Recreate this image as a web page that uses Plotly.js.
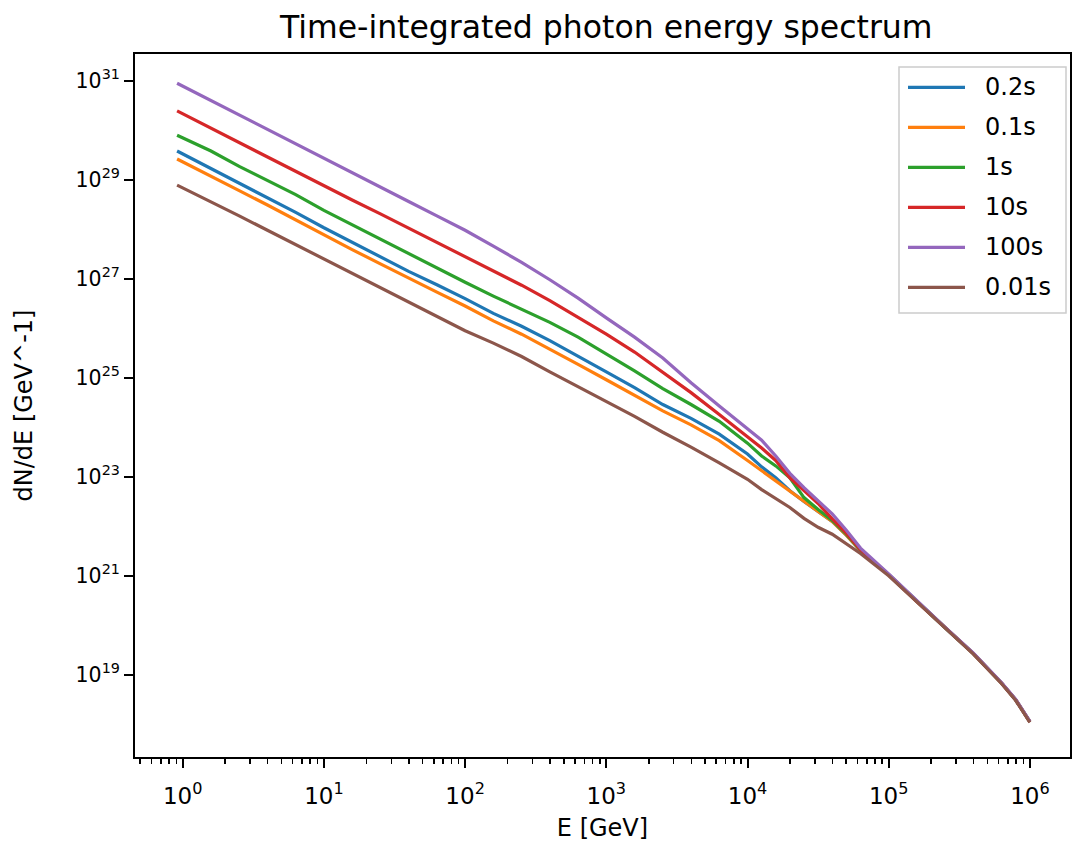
<!DOCTYPE html>
<html>
<head>
<meta charset="utf-8">
<script src="https://cdn.plot.ly/plotly-3.0.1.min.js"></script>
<style>html,body{margin:0;padding:0;background:#fff;}#chart{width:1081px;height:850px;}</style>
</head>
<body>
<div id="chart"></div>
<script>
// Photon energy E [GeV]
const energyGeV = [0.912, 1.585, 2.512, 3.981, 6.310, 10, 15.85, 25.12, 39.81, 63.10,
  100, 158.5, 251.2, 398.1, 631.0, 1000, 1585, 2512, 3981, 6310,
  10000, 12590, 15850, 19950, 25120, 31620, 39810, 50120, 63100,
  100000, 158500, 251200, 398100, 631000, 794300, 1000000];

// log10 of dN/dE [GeV^-1]
const log_0_2s = [29.58, 29.23, 28.93, 28.64, 28.34, 28.03, 27.74, 27.45, 27.15, 26.88,
  26.60, 26.30, 26.04, 25.75, 25.44, 25.12, 24.80, 24.46, 24.18, 23.86,
  23.46, 23.20, 22.98, 22.72, 22.50, 22.30, 22.10, 21.82, 21.51,
  21.02, 20.48, 19.95, 19.43, 18.83, 18.49, 18.05];
const log_0_1s = [29.42, 29.08, 28.78, 28.49, 28.19, 27.88, 27.59, 27.30, 27.01, 26.73,
  26.45, 26.15, 25.88, 25.58, 25.27, 24.96, 24.65, 24.33, 24.05, 23.73,
  23.33, 23.12, 22.93, 22.70, 22.50, 22.30, 22.10, 21.82, 21.51,
  21.02, 20.48, 19.95, 19.43, 18.83, 18.49, 18.05];
const log_1s = [29.90, 29.58, 29.27, 28.99, 28.70, 28.38, 28.09, 27.80, 27.50, 27.21,
  26.93, 26.65, 26.38, 26.12, 25.82, 25.48, 25.14, 24.78, 24.46, 24.12,
  23.68, 23.42, 23.22, 22.98, 22.58, 22.34, 22.12, 21.84, 21.52,
  21.02, 20.48, 19.95, 19.43, 18.83, 18.49, 18.05];
const log_10s = [30.39, 30.04, 29.75, 29.46, 29.17, 28.89, 28.59, 28.31, 28.02, 27.74,
  27.45, 27.15, 26.87, 26.56, 26.22, 25.88, 25.52, 25.12, 24.70, 24.26,
  23.82, 23.58, 23.33, 22.98, 22.72, 22.46, 22.15, 21.86, 21.53,
  21.02, 20.48, 19.95, 19.43, 18.83, 18.49, 18.05];
const log_100s = [30.95, 30.60, 30.30, 30.01, 29.71, 29.42, 29.13, 28.84, 28.56, 28.27,
  27.98, 27.66, 27.33, 26.98, 26.61, 26.21, 25.82, 25.40, 24.90, 24.43,
  23.98, 23.74, 23.42, 23.07, 22.78, 22.52, 22.25, 21.92, 21.56,
  21.04, 20.49, 19.96, 19.44, 18.84, 18.50, 18.06];
const log_0_01s = [28.89, 28.56, 28.27, 27.98, 27.69, 27.40, 27.10, 26.82, 26.53, 26.24,
  25.95, 25.70, 25.43, 25.12, 24.82, 24.53, 24.22, 23.90, 23.60, 23.28,
  22.95, 22.74, 22.56, 22.38, 22.16, 21.98, 21.84, 21.65, 21.45,
  21.00, 20.47, 19.94, 19.42, 18.82, 18.48, 18.04];

const seriesNames = ['0.2s', '0.1s', '1s', '10s', '100s', '0.01s'];
const seriesLogs = [log_0_2s, log_0_1s, log_1s, log_10s, log_100s, log_0_01s];
const seriesColors = ['#1f77b4', '#ff7f0e', '#2ca02c', '#d62728', '#9467bd', '#8c564b'];

const xTickVals = [1, 10, 100, 1000, 10000, 100000, 1000000];
const xTickText = ['10<sup>0</sup>', '10<sup>1</sup>', '10<sup>2</sup>', '10<sup>3</sup>', '10<sup>4</sup>', '10<sup>5</sup>', '10<sup>6</sup>'];
const yTickVals = [1e19, 1e21, 1e23, 1e25, 1e27, 1e29, 1e31];
const yTickText = ['10<sup>19</sup>', '10<sup>21</sup>', '10<sup>23</sup>', '10<sup>25</sup>', '10<sup>27</sup>', '10<sup>29</sup>', '10<sup>31</sup>'];

const xMinor = [];
for (let d = -1; d <= 6; d++) {
  for (let m = 2; m <= 9; m++) xMinor.push(m * Math.pow(10, d));
}

const traces = seriesNames.map((name, i) => ({
  type: 'scatter',
  mode: 'lines',
  name: name,
  showlegend: false,
  x: energyGeV,
  y: seriesLogs[i].map(v => Math.pow(10, v)),
  line: {color: seriesColors[i], width: 3.2}
}));

const FONT = 'DejaVu Sans, sans-serif';
const TXT = 24;

// hand-drawn legend (box, line samples, labels) in paper coordinates
const PL = 135, PW = 935, PB = 757, PH = 703;
const px2x = p => (p - PL) / PW;
const py2y = p => (PB - p) / PH;
const legendRowsY = [87.3, 127.3, 167.3, 207.3, 247.3, 287.3];
const shapes = [{
  type: 'rect', xref: 'paper', yref: 'paper',
  x0: px2x(899), x1: px2x(1066), y0: py2y(313), y1: py2y(67),
  fillcolor: 'rgba(255,255,255,0.8)', line: {color: '#cccccc', width: 1.5}
}];
const annotations = [];
seriesNames.forEach((name, i) => {
  shapes.push({
    type: 'line', xref: 'paper', yref: 'paper',
    x0: px2x(908), x1: px2x(965), y0: py2y(legendRowsY[i]), y1: py2y(legendRowsY[i]),
    line: {color: seriesColors[i], width: 3.2}
  });
  annotations.push({
    xref: 'paper', yref: 'paper', x: px2x(983), y: py2y(legendRowsY[i]),
    xanchor: 'left', yanchor: 'middle', showarrow: false, text: name,
    font: {family: FONT, size: TXT, color: 'black'}
  });
});

const axisCommon = {
  type: 'log',
  showgrid: false,
  zeroline: false,
  showline: true,
  mirror: true,
  linecolor: 'black',
  linewidth: 2,
  ticks: 'outside',
  ticklen: 9,
  tickwidth: 2,
  tickcolor: 'black',
  tickmode: 'array'
};

const layout = {
  width: 1081,
  height: 850,
  margin: {l: 135, r: 11, t: 54, b: 93, pad: 0},
  paper_bgcolor: 'white',
  plot_bgcolor: 'white',
  font: {family: FONT, color: 'black'},
  showlegend: false,
  title: {
    text: 'Time-integrated photon energy spectrum',
    font: {family: FONT, size: 31.5, color: 'black'},
    x: 0.504, xref: 'paper', xanchor: 'center',
    y: 0.968, yref: 'container', yanchor: 'middle'
  },
  xaxis: Object.assign({}, axisCommon, {
    range: [-0.338, 6.284],
    tickvals: xTickVals,
    ticktext: xTickText,
    tickfont: {family: FONT, size: 23, color: 'black'},
    ticklabelstandoff: 8,
    minor: {tickmode: 'array', tickvals: xMinor, ticks: 'outside', ticklen: 5, tickwidth: 1.5, tickcolor: 'black', showgrid: false},
    title: {text: 'E [GeV]', font: {family: FONT, size: TXT, color: 'black'}, standoff: 12}
  }),
  yaxis: Object.assign({}, axisCommon, {
    range: [17.34, 31.54],
    tickvals: yTickVals,
    ticktext: yTickText,
    tickfont: {family: FONT, size: 20.5, color: 'black'},
    title: {text: 'dN/dE [GeV^-1]', font: {family: FONT, size: TXT, color: 'black'}, standoff: 36}
  }),
  shapes: shapes,
  annotations: annotations
};

Plotly.newPlot('chart', traces, layout, {displayModeBar: false, staticPlot: true});
</script>
</body>
</html>
